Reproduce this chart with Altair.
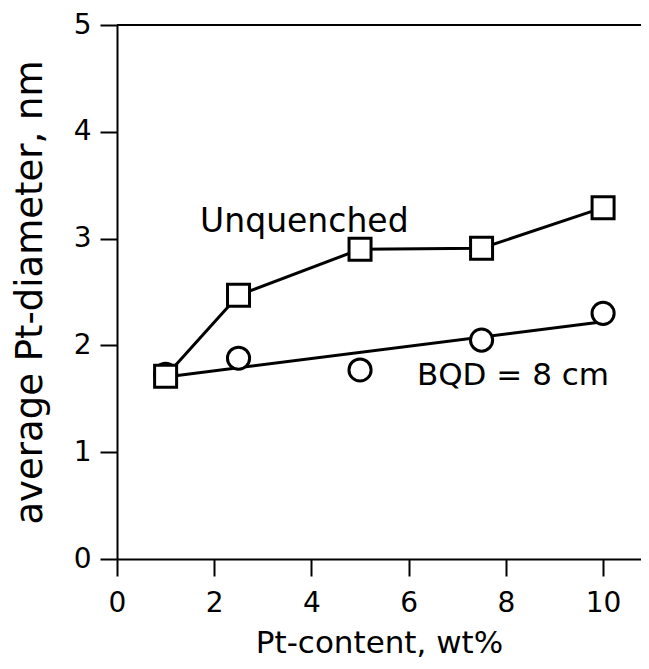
import altair as alt
import pandas as pd

# ---- data ----
pt_content = [1, 2.5, 5, 7.5, 10]
unquenched = [1.71, 2.47, 2.90, 2.91, 3.29]
bqd_8cm = [1.73, 1.88, 1.77, 2.05, 2.30]
x_ticks = [0, 2, 4, 6, 8, 10]
y_ticks = [0, 1, 2, 3, 4, 5]
label_text = ["Unquenched", "BQD = 8 cm"]
label_x = [1.71, 6.17]
label_y = [3.06, 1.63]
label_size = [33, 31]
frame_top = [5]

df_u = pd.DataFrame({"x": pt_content, "y": unquenched})
df_b = pd.DataFrame({"x": pt_content, "y": bqd_8cm})
df_t = pd.DataFrame({"x": label_x, "y": label_y, "text": label_text, "fs": label_size})
df_top = pd.DataFrame({"y": frame_top})

FONT = "DejaVu Sans"
W, H = 524, 534
X_MAX = 10.78

xs = alt.Scale(domain=[0, X_MAX], nice=False, zero=False)
ys = alt.Scale(domain=[0, 5], nice=False)

xax = alt.Axis(values=x_ticks, format="d", title="Pt-content, wt%", tickSize=17, labelPadding=13,
               titlePadding=11, grid=False, labelFontSize=28, titleFontSize=31,
               labelFlush=False)
yax = alt.Axis(values=y_ticks, format="d", title="average Pt-diameter, nm", tickSize=17,
               labelPadding=9, titlePadding=24, grid=False, labelFontSize=28,
               titleFontSize=37)

X = alt.X("x:Q", scale=xs, axis=xax)
Y = alt.Y("y:Q", scale=ys, axis=yax)

fit = (alt.Chart(df_b).transform_regression("x", "y")
       .mark_line(color="black", strokeWidth=3)
       .encode(x=X, y=Y))

circles = (alt.Chart(df_b)
           .mark_point(shape="circle", size=490, filled=True, fill="white",
                       stroke="black", strokeWidth=3, opacity=1)
           .encode(x=X, y=Y))

uline = (alt.Chart(df_u).mark_line(color="black", strokeWidth=3)
         .encode(x=X, y=Y))

squares = (alt.Chart(df_u)
           .mark_point(shape="square", size=484, filled=True, fill="white",
                       stroke="black", strokeWidth=3, opacity=1)
           .encode(x=X, y=Y))

texts = (alt.Chart(df_t)
         .mark_text(align="left", baseline="alphabetic", font=FONT, color="black")
         .encode(x=X, y=Y, text="text:N",
                 size=alt.Size("fs:Q", scale=None, legend=None)))

top = (alt.Chart(df_top).mark_rule(color="black", strokeWidth=2)
       .encode(y=alt.Y("y:Q", scale=ys), x=alt.value(0), x2=alt.value(W + 10)))

chart = (alt.layer(fit, circles, uline, squares, texts, top)
         .properties(width=W, height=H,
                     autosize=alt.AutoSizeParams(type="none"),
                     padding={"left": 109, "top": 17, "right": 0, "bottom": 102})
         .configure(font=FONT)
         .configure_view(stroke=None)
         .configure_axis(domainColor="black", tickColor="black", labelColor="black",
                         titleColor="black", domainWidth=2, tickWidth=2,
                         titleFontWeight="normal", labelFont=FONT, titleFont=FONT))

chart.save("out.html", embed_options={"renderer": "svg", "actions": False})
